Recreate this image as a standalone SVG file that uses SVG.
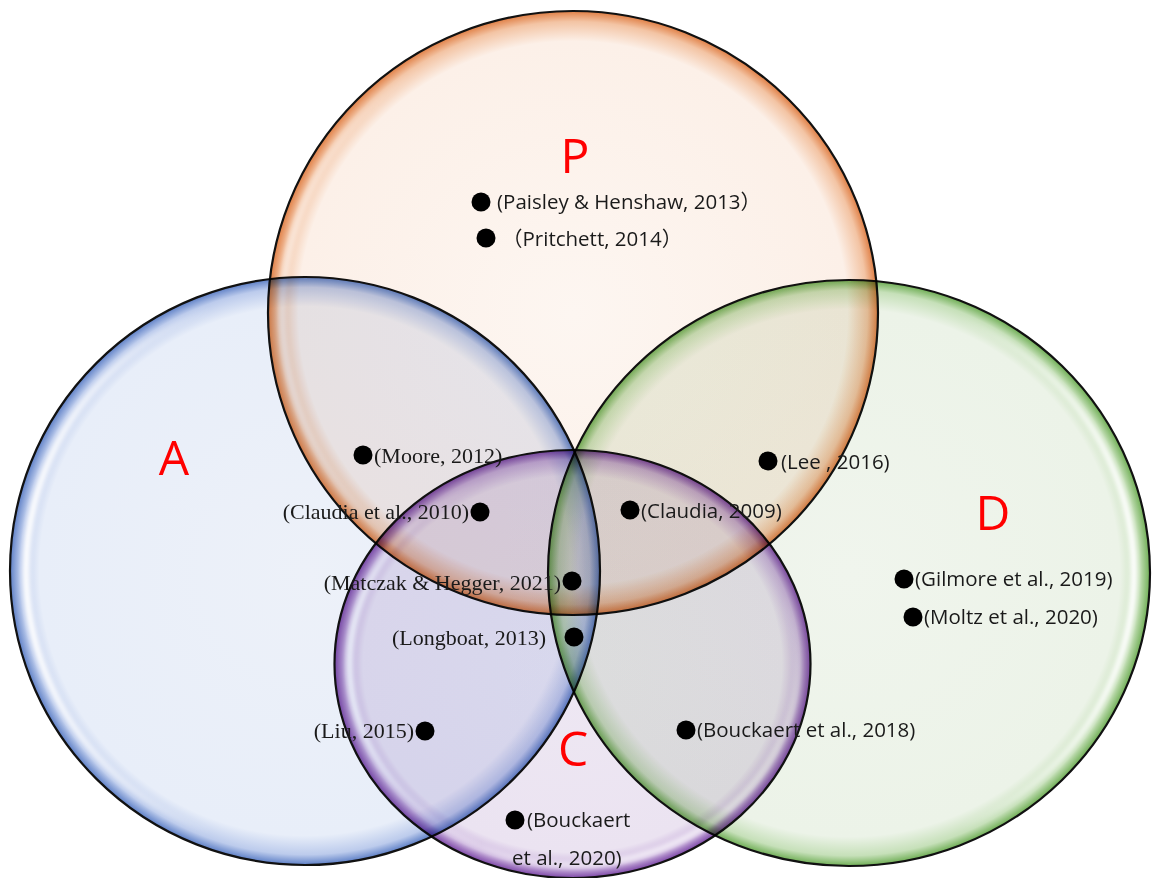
<svg xmlns="http://www.w3.org/2000/svg" width="1159" height="878" viewBox="0 0 1159 878">
  <style>
    .set { mix-blend-mode: multiply; }
    .outline { stroke: #111; stroke-width: 2.2; }
    .hl { fill: none; stroke-width: 7; filter: url(#soft); }
    .letter { font-family: "Open Sans", "Liberation Sans", sans-serif; font-size: 48px; fill: #f00; text-anchor: middle; }
    .sans { font-family: "Open Sans", "Noto Sans CJK SC", sans-serif; font-size: 20.5px; fill: #1a1a1a; }
    .serif { font-family: "Liberation Serif", "Times New Roman", serif; font-size: 22px; fill: #1a1a1a; }
    .end { text-anchor: end; }
    .dot { fill: #000; }
  </style>
  <defs>
    <filter id="soft" x="-10%" y="-10%" width="120%" height="120%">
      <feGaussianBlur stdDeviation="2"/>
    </filter>
    <radialGradient id="fillP" cx="0.5" cy="0.5" r="0.5">
      <stop offset="0" stop-color="#fdf6f1"/>
      <stop offset="0.9" stop-color="#fcf0e8"/>
      <stop offset="0.965" stop-color="#f3c4a4"/>
      <stop offset="1" stop-color="#e07f45"/>
    </radialGradient>
    <radialGradient id="fillA" cx="0.5" cy="0.5" r="0.5">
      <stop offset="0" stop-color="#edf1f9"/>
      <stop offset="0.9" stop-color="#e8eef9"/>
      <stop offset="0.965" stop-color="#bccbec"/>
      <stop offset="1" stop-color="#5d7fc6"/>
    </radialGradient>
    <radialGradient id="fillD" cx="0.5" cy="0.5" r="0.5">
      <stop offset="0" stop-color="#f0f5ed"/>
      <stop offset="0.9" stop-color="#ecf3e8"/>
      <stop offset="0.965" stop-color="#c6e0b9"/>
      <stop offset="1" stop-color="#6fae55"/>
    </radialGradient>
    <radialGradient id="fillC" cx="0.5" cy="0.5" r="0.5">
      <stop offset="0" stop-color="#eee8f3"/>
      <stop offset="0.88" stop-color="#ebe3f1"/>
      <stop offset="0.955" stop-color="#c9b0dc"/>
      <stop offset="1" stop-color="#7e48a8"/>
    </radialGradient>
    <linearGradient id="hlA" gradientUnits="userSpaceOnUse" x1="28" y1="0" x2="210" y2="0">
      <stop offset="0" stop-color="#fff" stop-opacity="0.95"/>
      <stop offset="1" stop-color="#fff" stop-opacity="0"/>
    </linearGradient>
    <linearGradient id="hlD" gradientUnits="userSpaceOnUse" x1="1134" y1="0" x2="960" y2="0">
      <stop offset="0" stop-color="#fff" stop-opacity="0.95"/>
      <stop offset="1" stop-color="#fff" stop-opacity="0"/>
    </linearGradient>
    <linearGradient id="hlC" gradientUnits="userSpaceOnUse" x1="350" y1="0" x2="480" y2="0">
      <stop offset="0" stop-color="#fff" stop-opacity="0.9"/>
      <stop offset="1" stop-color="#fff" stop-opacity="0"/>
    </linearGradient>
    <linearGradient id="hlC2" gradientUnits="userSpaceOnUse" x1="700" y1="640" x2="795" y2="820">
      <stop offset="0" stop-color="#fff" stop-opacity="0"/>
      <stop offset="1" stop-color="#fff" stop-opacity="0.8"/>
    </linearGradient>
    <linearGradient id="hlP" gradientUnits="userSpaceOnUse" x1="290" y1="0" x2="420" y2="0">
      <stop offset="0" stop-color="#fff" stop-opacity="0.5"/>
      <stop offset="1" stop-color="#fff" stop-opacity="0"/>
    </linearGradient>
  </defs>

  <rect width="1159" height="878" fill="#fff"/>

  <!-- set P -->
  <g id="set-P" class="set">
    <ellipse cx="573" cy="313" rx="305" ry="302" fill="url(#fillP)" class="outline"/>
    <ellipse cx="573" cy="313" rx="291" ry="288" class="hl" stroke="url(#hlP)"/>
  </g>

  <!-- set A -->
  <g id="set-A" class="set">
    <ellipse cx="305" cy="571" rx="295" ry="294" fill="url(#fillA)" class="outline"/>
    <ellipse cx="305" cy="571" rx="279" ry="278" class="hl" stroke="url(#hlA)"/>
  </g>

  <!-- set D -->
  <g id="set-D" class="set">
    <ellipse cx="849" cy="573" rx="301" ry="293" fill="url(#fillD)" class="outline"/>
    <ellipse cx="849" cy="573" rx="285" ry="277" class="hl" stroke="url(#hlD)"/>
  </g>

  <!-- set C -->
  <g id="set-C" class="set">
    <ellipse cx="572.5" cy="664" rx="238" ry="214" fill="url(#fillC)" class="outline"/>
    <ellipse cx="572.5" cy="664" rx="223" ry="199" class="hl" stroke="url(#hlC)"/>
    <ellipse cx="572.5" cy="664" rx="225" ry="201" class="hl" stroke="url(#hlC2)"/>
  </g>

  <!-- set labels -->
  <g id="labels">
    <text class="letter" x="575" y="173">P</text>
    <text class="letter" x="174" y="475">A</text>
    <text class="letter" x="993" y="530">D</text>
    <text class="letter" x="573" y="766">C</text>
  </g>

  <!-- studies -->
  <g id="entry-paisley">
    <circle class="dot" cx="481" cy="202" r="9.5"/>
    <text class="sans" x="497" y="209">(Paisley &amp; Henshaw, 2013）</text>
  </g>
  <g id="entry-pritchett">
    <circle class="dot" cx="486" cy="238" r="9.5"/>
    <text class="sans" x="502" y="246">（Pritchett, 2014）</text>
  </g>
  <g id="entry-moore">
    <circle class="dot" cx="363" cy="455" r="9.5"/>
    <text class="serif" x="374" y="463">(Moore, 2012)</text>
  </g>
  <g id="entry-claudia-2010">
    <circle class="dot" cx="480" cy="512" r="9.5"/>
    <text class="serif end" x="469" y="519">(Claudia et al., 2010)</text>
  </g>
  <g id="entry-matczak">
    <circle class="dot" cx="572" cy="581" r="9.5"/>
    <text class="serif end" x="561" y="590">(Matczak &amp; Hegger, 2021)</text>
  </g>
  <g id="entry-longboat">
    <circle class="dot" cx="574" cy="637" r="9.5"/>
    <text class="serif end" x="546" y="645">(Longboat, 2013)</text>
  </g>
  <g id="entry-liu">
    <circle class="dot" cx="425" cy="731" r="9.5"/>
    <text class="serif end" x="414" y="738">(Liu, 2015)</text>
  </g>
  <g id="entry-lee">
    <circle class="dot" cx="768" cy="461" r="9.5"/>
    <text class="sans" x="781" y="469">(Lee , 2016)</text>
  </g>
  <g id="entry-claudia-2009">
    <circle class="dot" cx="630" cy="510" r="9.5"/>
    <text class="sans" x="641" y="518">(Claudia, 2009)</text>
  </g>
  <g id="entry-gilmore">
    <circle class="dot" cx="904" cy="579" r="9.5"/>
    <text class="sans" x="915" y="586">(Gilmore et al., 2019)</text>
  </g>
  <g id="entry-moltz">
    <circle class="dot" cx="913" cy="617" r="9.5"/>
    <text class="sans" x="924" y="624">(Moltz et al., 2020)</text>
  </g>
  <g id="entry-bouckaert-2018">
    <circle class="dot" cx="686" cy="730" r="9.5"/>
    <text class="sans" x="697" y="737">(Bouckaert et al., 2018)</text>
  </g>
  <g id="entry-bouckaert-2020">
    <circle class="dot" cx="515" cy="820" r="9.5"/>
    <text class="sans" x="527" y="827">(Bouckaert</text>
    <text class="sans" x="512" y="865">et al., 2020)</text>
  </g>
</svg>
